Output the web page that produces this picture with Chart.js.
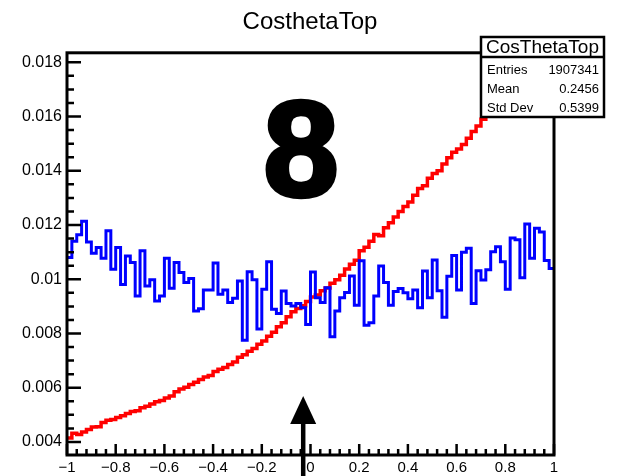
<!DOCTYPE html>
<html>
<head>
<meta charset="utf-8">
<script src="https://cdn.jsdelivr.net/npm/chart.js@4.4.0/dist/chart.umd.min.js"></script>
<style>
html,body{margin:0;padding:0;background:#ffffff;}
#wrap{width:620px;height:476px;position:relative;}
</style>
</head>
<body>
<div id="wrap"><canvas id="c" width="620" height="476"></canvas></div>
<script>
// ---------------- data ----------------
const chartTitle = 'CosthetaTop';
const xRange = [-1, 1];
const nBins = 100;
const yRange = [0.00352, 0.01835];
const xTickValues = [-1, -0.8, -0.6, -0.4, -0.2, 0, 0.2, 0.4, 0.6, 0.8, 1];
const xTickLabels = ['\u22121', '\u22120.8', '\u22120.6', '\u22120.4', '\u22120.2', '0', '0.2', '0.4', '0.6', '0.8', '1'];
const yTickValues = [0.004, 0.006, 0.008, 0.010, 0.012, 0.014, 0.016, 0.018];
const yTickLabels = ['0.004', '0.006', '0.008', '0.01', '0.012', '0.014', '0.016', '0.018'];
const xMinorStep = 0.04;
const yMinorStep = 0.0005;

const redValues = [
  0.00415, 0.00432, 0.00428, 0.00437, 0.00446, 0.00455, 0.00456, 0.00472, 0.00480, 0.00483,
  0.00490, 0.00497, 0.00505, 0.00512, 0.00515, 0.00526, 0.00532, 0.00540, 0.00548, 0.00553,
  0.00562, 0.00570, 0.00585, 0.00595, 0.00602, 0.00612, 0.00620, 0.00630, 0.00640, 0.00645,
  0.00660, 0.00668, 0.00675, 0.00686, 0.00695, 0.00712, 0.00722, 0.00735, 0.00745, 0.00760,
  0.00772, 0.00790, 0.00805, 0.00825, 0.00840, 0.00862, 0.00880, 0.00892, 0.00902, 0.00918,
  0.00935, 0.00942, 0.00958, 0.00968, 0.00985, 0.00998, 0.01015, 0.01038, 0.01055, 0.01070,
  0.01105, 0.01118, 0.01140, 0.01165, 0.01160, 0.01190, 0.01208, 0.01230, 0.01250, 0.01268,
  0.01285, 0.01310, 0.01335, 0.01345, 0.01372, 0.01390, 0.01400, 0.01425, 0.01448, 0.01468,
  0.01480, 0.01497, 0.01520, 0.01545, 0.01565, 0.01590, 0.01612, 0.01635, 0.01660, 0.01685,
  0.01710, 0.01735, 0.01760, 0.01785, 0.01812, 0.01838, 0.01865, 0.01890, 0.01918, 0.01945
];

const blueValues = [
  0.01080, 0.01140, 0.01164, 0.01214, 0.01137, 0.01096, 0.01117, 0.01077, 0.01179, 0.01037,
  0.01117, 0.00981, 0.01086, 0.01062, 0.00938, 0.01105, 0.00975, 0.00998, 0.00920, 0.00938,
  0.01077, 0.00967, 0.01062, 0.01025, 0.00988, 0.01003, 0.00883, 0.00891, 0.00960, 0.00960,
  0.01060, 0.00945, 0.00960, 0.00914, 0.00930, 0.00994, 0.00775, 0.01028, 0.00998, 0.00817,
  0.00963, 0.01065, 0.00889, 0.00874, 0.00957, 0.00911, 0.00901, 0.00911, 0.00895, 0.00833,
  0.01027, 0.00932, 0.00914, 0.00969, 0.00788, 0.00883, 0.00932, 0.00951, 0.01012, 0.00904,
  0.01068, 0.00830, 0.00840, 0.00938, 0.01049, 0.00988, 0.00904, 0.00955, 0.00966, 0.00950,
  0.00928, 0.00960, 0.00895, 0.01030, 0.00932, 0.01071, 0.00958, 0.00860, 0.01011, 0.01088,
  0.00960, 0.01100, 0.01114, 0.00911, 0.01031, 0.00997, 0.01035, 0.01101, 0.01120, 0.01065,
  0.00963, 0.01152, 0.01146, 0.01006, 0.01204, 0.01077, 0.01188, 0.01174, 0.01069, 0.01040
];

const statsTitle = 'CosThetaTop';
const statsLabels = ['Entries', 'Mean', 'Std Dev'];
const statsValues = ['1907341', '0.2456', '0.5399'];
const bigLabel = '8';
const arrowX = -0.03;
const arrowTipY = 0.0057;

// ---------------- build ----------------
function histPoints(values) {
  const w = (xRange[1] - xRange[0]) / nBins;
  const pts = values.map((v, i) => ({ x: xRange[0] + i * w, y: v }));
  pts.push({ x: xRange[1], y: values[values.length - 1] });
  return pts;
}

const FONT = "'Liberation Sans', Arial, Helvetica, sans-serif";

const rootDecor = {
  id: 'rootDecor',
  afterDraw(chart) {
    const ctx = chart.ctx;
    const xs = chart.scales.x, ys = chart.scales.y;
    const a = chart.chartArea;
    ctx.save();
    ctx.strokeStyle = '#000';
    ctx.fillStyle = '#000';
    ctx.lineCap = 'butt';
    // ticks (inward, bottom and left only)
    ctx.lineWidth = 2.5;
    ctx.beginPath();
    for (let v = xRange[0]; v <= xRange[1] + 1e-9; v += xMinorStep) {
      const px = xs.getPixelForValue(v);
      const isMajor = xTickValues.some(t => Math.abs(t - v) < 1e-6);
      ctx.moveTo(px, a.bottom);
      ctx.lineTo(px, a.bottom - (isMajor ? 11 : 6));
    }
    const y0 = Math.ceil(yRange[0] / yMinorStep) * yMinorStep;
    for (let v = y0; v <= yRange[1] + 1e-12; v += yMinorStep) {
      const py = ys.getPixelForValue(v);
      const isMajor = yTickValues.some(t => Math.abs(t - v) < 1e-8);
      ctx.moveTo(a.left, py);
      ctx.lineTo(a.left + (isMajor ? 14 : 7), py);
    }
    ctx.stroke();
    // frame
    ctx.lineWidth = 3;
    ctx.strokeRect(a.left, a.top, a.right - a.left, a.bottom - a.top);

    // big label
    ctx.font = "bold 135px " + FONT;
    ctx.textAlign = 'center';
    ctx.textBaseline = 'alphabetic';
    ctx.lineWidth = 4.5;
    ctx.lineJoin = 'round';
    ctx.strokeText(bigLabel, 301, 196);
    ctx.fillText(bigLabel, 301, 196);

    // arrow
    const ax = xs.getPixelForValue(arrowX);
    const tip = ys.getPixelForValue(arrowTipY);
    ctx.lineWidth = 4.5;
    ctx.lineJoin = 'miter';
    ctx.beginPath();
    ctx.moveTo(ax, chart.height);
    ctx.lineTo(ax, tip + 20);
    ctx.stroke();
    ctx.beginPath();
    ctx.moveTo(ax, tip);
    ctx.lineTo(ax - 13, tip + 28);
    ctx.lineTo(ax + 13, tip + 28);
    ctx.closePath();
    ctx.fill();

    // stats box
    const bx = 481, by = 37, bw = 123, bh = 80;
    ctx.fillStyle = '#fff';
    ctx.fillRect(bx, by, bw, bh);
    ctx.strokeStyle = '#000';
    ctx.lineWidth = 2.5;
    ctx.strokeRect(bx, by, bw, bh);
    ctx.beginPath();
    ctx.moveTo(bx, by + 20);
    ctx.lineTo(bx + bw, by + 20);
    ctx.stroke();
    ctx.fillStyle = '#000';
    ctx.font = "19px " + FONT;
    ctx.textAlign = 'center';
    ctx.textBaseline = 'middle';
    ctx.fillText(statsTitle, bx + bw / 2, by + 10.5);
    ctx.font = "13px " + FONT;
    const rowY = [by + 33, by + 52, by + 71];
    for (let i = 0; i < statsLabels.length; i++) {
      ctx.textAlign = 'left';
      ctx.fillText(statsLabels[i], bx + 6, rowY[i]);
      ctx.textAlign = 'right';
      ctx.fillText(statsValues[i], bx + bw - 5, rowY[i]);
    }
    ctx.restore();
  }
};

new Chart(document.getElementById('c'), {
  type: 'line',
  data: {
    datasets: [
      {
        label: 'blue',
        data: histPoints(blueValues),
        borderColor: '#0000ff',
        borderWidth: 3,
        stepped: true,
        pointRadius: 0,
        fill: false,
        order: 1,
        clip: 2
      },
      {
        label: 'red',
        data: histPoints(redValues),
        borderColor: '#ff0000',
        borderWidth: 3.5,
        stepped: true,
        pointRadius: 0,
        fill: false,
        order: 2,
        clip: 1
      }
    ]
  },
  options: {
    responsive: false,
    animation: false,
    devicePixelRatio: 1,
    layout: { padding: 0 },
    plugins: {
      legend: { display: false },
      tooltip: { enabled: false },
      title: {
        display: true,
        text: chartTitle,
        color: '#000',
        font: { family: FONT, size: 24, weight: 'normal' },
        padding: { top: 8, bottom: 16 }
      }
    },
    scales: {
      x: {
        type: 'linear',
        min: xRange[0],
        max: xRange[1],
        grid: { display: false, drawTicks: false },
        border: { display: false },
        afterBuildTicks: s => { s.ticks = xTickValues.map(v => ({ value: v })); },
        afterFit: s => { s.height = 21; },
        ticks: {
          autoSkip: false,
          maxRotation: 0,
          padding: 4,
          color: '#000',
          font: { family: FONT, size: 15 },
          callback: (v, i) => xTickLabels[i]
        }
      },
      y: {
        type: 'linear',
        min: yRange[0],
        max: yRange[1],
        grid: { display: false, drawTicks: false },
        border: { display: false },
        afterBuildTicks: s => { s.ticks = yTickValues.map(v => ({ value: v })); },
        afterFit: s => { s.width = 67; },
        ticks: {
          autoSkip: false,
          padding: 5,
          color: '#000',
          font: { family: FONT, size: 16 },
          callback: (v, i) => yTickLabels[i]
        }
      },
      yRight: {
        type: 'linear',
        position: 'right',
        min: 0,
        max: 1,
        display: true,
        grid: { display: false, drawTicks: false },
        border: { display: false },
        ticks: { display: false },
        afterFit: s => { s.width = 66; }
      }
    }
  },
  plugins: [rootDecor]
});
</script>
</body>
</html>
